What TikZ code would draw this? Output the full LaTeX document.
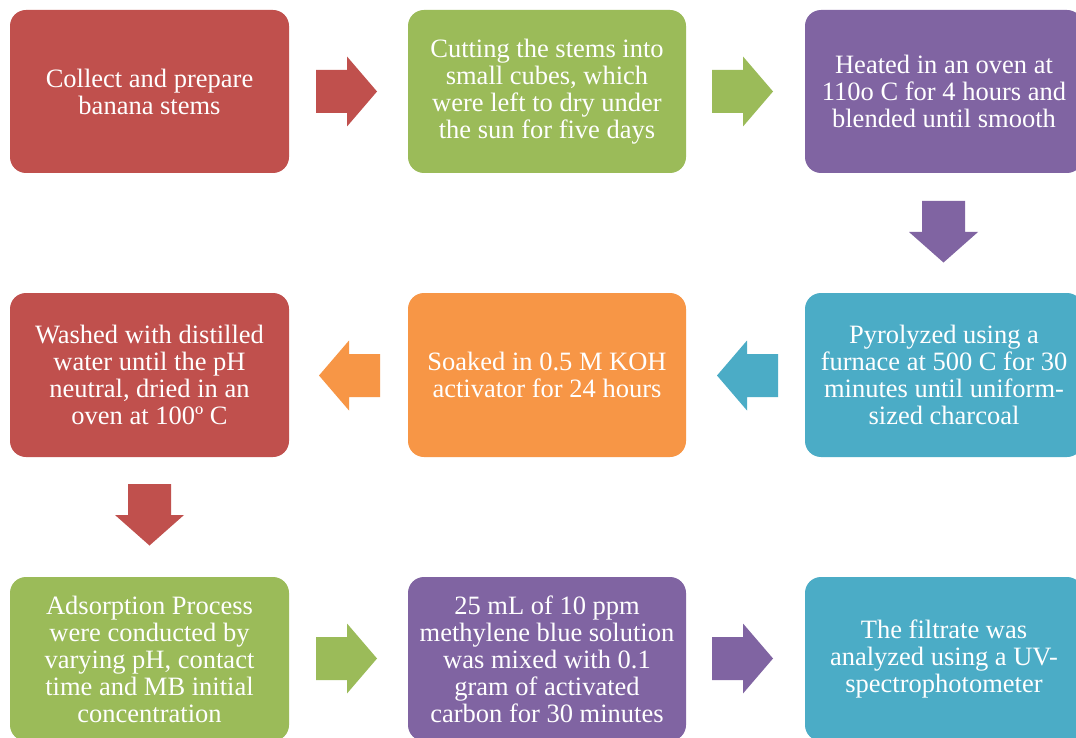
\documentclass[tikz,border=0pt]{standalone}
\usepackage{fontspec}
\setmainfont{Liberation Serif}
\usetikzlibrary{calc}
\definecolor{cRed}{HTML}{C0504D}
\definecolor{cGreen}{HTML}{9BBB59}
\definecolor{cPurple}{HTML}{8064A2}
\definecolor{cAqua}{HTML}{4BACC6}
\definecolor{cOrange}{HTML}{F79646}
\tikzset{
  stepbox/.style={rounded corners=16pt, inner sep=0pt, text=white, align=center,
    font=\fontsize{26.5}{27}\selectfont},
  pics/rarrow/.style={code={\path[pic actions] (-31,-21.5) -- (0,-21.5) -- (0,-35) -- (30,0) -- (0,35) -- (0,21.5) -- (-31,21.5) -- cycle;}},
  pics/larrow/.style={code={\path[pic actions] (31,-21.5) -- (0,-21.5) -- (0,-35) -- (-30,0) -- (0,35) -- (0,21.5) -- (31,21.5) -- cycle;}},
  pics/darrow/.style={code={\path[pic actions] (-21.5,-31) -- (21.5,-31) -- (21.5,0) -- (34.5,0) -- (0,30.5) -- (-34.5,0) -- (-21.5,0) -- cycle;}},
}
\begin{document}
\begin{tikzpicture}[x=1pt,y=-1pt]
\useasboundingbox (0,0) rectangle (1076,738);
\clip (0,0) rectangle (1076,738);
\fill[white] (0,0) rectangle (1076,738);
% boxes
\fill[cRed,rounded corners=16pt] (10,10) rectangle (289,173);
\node[stepbox] (b1) at (149.5,91.5) {Collect and prepare\\banana stems};
\fill[cGreen,rounded corners=16pt] (408,10) rectangle (686,173);
\node[stepbox] (b2) at (547,91.5) {Cutting the stems into\\small cubes, which\\were left to dry under\\the sun for five days};
\fill[cPurple,rounded corners=16pt] (805,10) rectangle (1083,173);
\node[stepbox] (b3) at (944,91.5) {Heated in an oven at\\110o C for 4 hours and\\blended until smooth};
\fill[cAqua,rounded corners=16pt] (805,293) rectangle (1083,457);
\node[stepbox] (b4) at (944,375) {Pyrolyzed using a\\furnace at 500 C for 30\\minutes until uniform-\\sized charcoal};
\fill[cOrange,rounded corners=16pt] (408,293) rectangle (686,457);
\node[stepbox] (b5) at (547,375) {Soaked in 0.5 M KOH\\activator for 24 hours};
\fill[cRed,rounded corners=16pt] (10,293) rectangle (289,457);
\node[stepbox] (b6) at (149.5,375) {Washed with distilled\\water until the pH\\neutral, dried in an\\oven at 100º C};
\fill[cGreen,rounded corners=16pt] (10,577) rectangle (289,741);
\node[stepbox] (b7) at (149.5,659) {Adsorption Process\\were conducted by\\varying pH, contact\\time and MB initial\\concentration};
\fill[cPurple,rounded corners=16pt] (408,577) rectangle (686,741);
\node[stepbox] (b8) at (547,659) {25 mL of 10 ppm\\methylene blue solution\\was mixed with 0.1\\gram of activated\\carbon for 30 minutes};
\fill[cAqua,rounded corners=16pt] (805,577) rectangle (1083,741);
\node[stepbox] (b9) at (944,659) {The filtrate was\\analyzed using a UV-\\spectrophotometer};
% arrows
\pic[fill=cRed] (a1) at (347,91.5) {rarrow};
\pic[fill=cGreen] (a2) at (743,91.5) {rarrow};
\pic[fill=cPurple] (a3) at (943.5,232) {darrow};
\pic[fill=cAqua] (a4) at (747,375.5) {larrow};
\pic[fill=cOrange] (a5) at (349,375.5) {larrow};
\pic[fill=cRed] (a6) at (149.5,515) {darrow};
\pic[fill=cGreen] (a7) at (347,658.5) {rarrow};
\pic[fill=cPurple] (a8) at (743,658.5) {rarrow};
\end{tikzpicture}
\end{document}
